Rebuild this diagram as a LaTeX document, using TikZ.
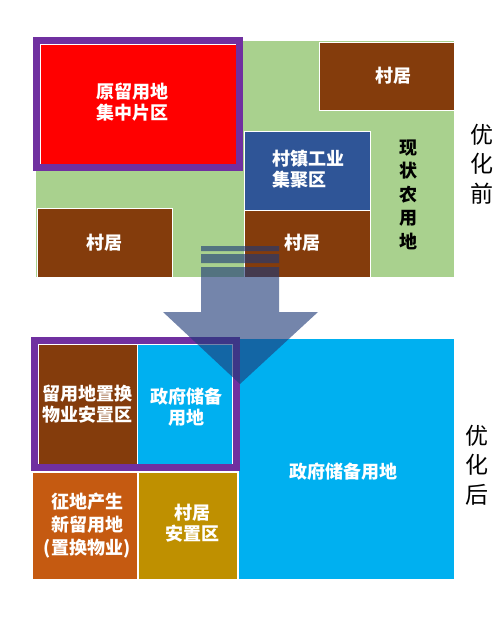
\documentclass[tikz,border=0pt]{standalone}
\usepackage{fontspec}
\setmainfont{Noto Sans CJK SC}
\begin{document}
\begin{tikzpicture}[x=1pt,y=-1pt]
\definecolor{cgreen}{HTML}{A9D18E}
\definecolor{cred}{HTML}{FF0000}
\definecolor{cpurple}{HTML}{7030A0}
\definecolor{cbrown}{HTML}{843C0C}
\definecolor{cblue}{HTML}{2F5597}
\definecolor{clblue}{HTML}{00B0F0}
\definecolor{corange}{HTML}{C55A11}
\definecolor{cgold}{HTML}{BF9000}
\definecolor{carrow}{HTML}{1F3A78}
\tikzset{
  area/.style={draw=white, line width=0.8pt},
  frame/.style={draw=cpurple, line width=7pt},
  wtxt/.style={text=white, font=\fontsize{18}{21}\selectfont\bfseries, align=center, inner sep=0pt},
  btxt/.style={text=black, font=\fontsize{18}{23.5}\selectfont\bfseries, align=center, inner sep=0pt},
  side/.style={text=black, font=\fontsize{23}{29.5}\selectfont, align=center, inner sep=0pt}
}
\useasboundingbox (0,0) rectangle (500,627);
% ---------- before ----------
\fill[cgreen] (36,41) rectangle (454,277);
\path[area, fill=cred] (40,44) rectangle (236,164);
\path[area, fill=cbrown] (319,42) rectangle (454,110);
\path[area, fill=cblue] (244,131) rectangle (370,210);
\path[area, fill=cbrown] (244,210) rectangle (370,277);
\path[area, fill=cbrown] (37,208) rectangle (172,277);
\draw[frame] (36.5,40.5) rectangle (239.5,167.5);
\node[wtxt] (t1) at (132,102) {原留用地\\集中片区};
\node[wtxt] (t2) at (393,76) {村居};
\node[wtxt, align=left, anchor=west] (t3) at (272,169) {村镇工业\\集聚区};
\node[wtxt] (t4) at (302,243) {村居};
\node[wtxt] (t5) at (104,243) {村居};
\node[btxt] (t6) at (408,194.5) {现\\状\\农\\用\\地};
\node[side] (s1) at (482,164) {优\\化\\前};
% ---------- after ----------
\path[area, fill=clblue] (238,338) rectangle (454,579);
\path[area, fill=cbrown] (38,344) rectangle (137,464);
\path[area, fill=clblue] (137,344) rectangle (232,464);
\path[area, fill=corange] (32,472) rectangle (137,579);
\path[area, fill=cgold] (138,472) rectangle (237,579);
\draw[frame] (34.5,340.5) rectangle (236.5,467.5);
\node[wtxt] (b1) at (87,404) {留用地置换\\物业安置区};
\node[wtxt] (b2) at (186,407) {政府储备\\用地};
\node[wtxt] (b3) at (343,472) {政府储备用地};
\node[wtxt, font=\fontsize{18}{23}\selectfont\bfseries] (b4) at (87,526) {征地产生\\新留用地\\(置换物业)};
\node[wtxt] (b5) at (192,523.5) {村居\\安置区};
\node[side] (s2) at (477,465) {优\\化\\后};
% ---------- arrow ----------
\fill[carrow, fill opacity=0.62]
  (201,246) rectangle (279,251)
  (201,254) rectangle (279,263)
  (201,267) -- (279,267) -- (279,312) -- (318,312) -- (240,384) -- (163,312) -- (201,312) -- cycle;
\end{tikzpicture}
\end{document}
